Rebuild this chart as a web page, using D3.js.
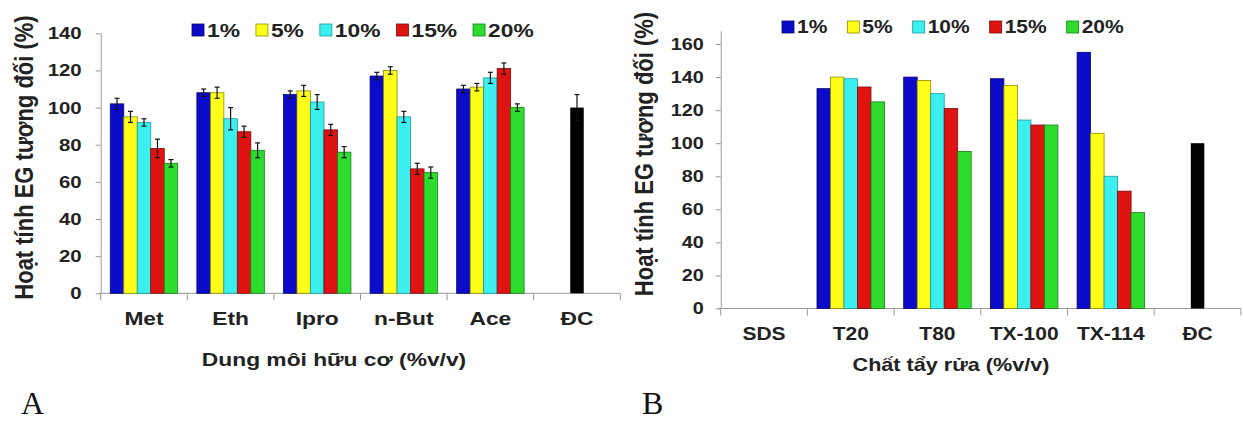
<!DOCTYPE html>
<html><head><meta charset="utf-8">
<script src="https://cdn.jsdelivr.net/npm/d3@7"></script>
<style>body{margin:0;background:#fff}</style>
</head><body>
<script>
// ---------- data ----------
const seriesNames = ["1%", "5%", "10%", "15%", "20%"];
const seriesColors = ["#0b0bc9", "#ffff1a", "#3cf0f0", "#e01313", "#2edc2e"];
const seriesStrokes = ["#05056a", "#8a8a00", "#1a9a9a", "#7a0a0a", "#168016"];

// Panel A: organic solvents
const catsA = ["Met", "Eth", "Ipro", "n-But", "Ace", "ĐC"];
const a1  = [102, 108, 107, 117, 110];
const a5  = [95, 108, 109, 120, 111];
const a10 = [92, 94, 103, 95, 116];
const a15 = [78, 87, 88, 67, 121];
const a20 = [70, 77, 76, 65, 100];
const aErr1  = [3, 2, 2, 2, 2];
const aErr5  = [3, 3, 3, 2, 2];
const aErr10 = [2, 6, 4, 3, 3];
const aErr15 = [5, 3, 3, 3, 3];
const aErr20 = [2, 4, 3, 3, 2];
const controlA = 100, controlErrA = 7;
const ticksA = [0, 20, 40, 60, 80, 100, 120, 140];

// Panel B: detergents
const catsB = ["SDS", "T20", "T80", "TX-100", "TX-114", "ĐC"];
const b1  = [0, 133, 140, 139, 155];
const b5  = [0, 140, 138, 135, 106];
const b10 = [0, 139, 130, 114, 80];
const b15 = [0, 134, 121, 111, 71];
const b20 = [0, 125, 95, 111, 58];
const controlB = 100;
const ticksB = [0, 20, 40, 60, 80, 100, 120, 140, 160];

const titleYA = "Hoạt tính EG tương đối (%)";
const titleXA = "Dung môi hữu cơ (%v/v)";
const titleXB = "Chất tẩy rửa (%v/v)";

// ---------- drawing ----------
const W = 1243, H = 424, SX = 1.2;
const TXT = "#222";
const FONT = "'Liberation Sans', Arial, sans-serif";
const svg = d3.select("body").append("svg").attr("width", W).attr("height", H);

function label(g, x, y, str, size, anchor, rotate) {
  const t = g.append("g")
    .attr("transform", rotate
      ? `translate(${x},${y}) rotate(-90) scale(1,${SX})`
      : `translate(${x},${y}) scale(${SX},1)`)
    .append("text")
    .attr("text-anchor", anchor || "start")
    .attr("font-family", FONT).attr("font-weight", "bold")
    .attr("font-size", size).attr("fill", TXT)
    .text(str);
  return t;
}

function panel(cfg) {
  const g = svg.append("g");
  const x = d3.scaleBand(cfg.cats, [cfg.x0, cfg.x1]).padding(0);
  const inner = d3.scaleBand(seriesNames, [0, x.bandwidth()]).paddingInner(0).paddingOuter(0.71);
  const y = d3.scaleLinear([0, cfg.yMax], [cfg.y0, cfg.yTop]);

  // y axis
  const ya = g.append("g").attr("transform", `translate(${cfg.x0},0)`)
    .call(d3.axisLeft(y).tickValues(cfg.ticks).tickSize(5).tickSizeOuter(0).tickPadding(cfg.tickPad));
  ya.selectAll("path,line").attr("stroke", "#9a9a9a");
  ya.selectAll("text")
    .attr("font-family", FONT).attr("font-weight", "bold").attr("font-size", cfg.tickSize)
    .attr("fill", TXT)
    .attr("transform", `scale(${SX},1)`)
    .attr("x", function () { return +d3.select(this).attr("x") / SX; });

  // x axis line + boundary ticks
  g.append("line").attr("x1", cfg.x0 - 2).attr("x2", cfg.x1).attr("y1", y(0)).attr("y2", y(0))
    .attr("stroke", "#9a9a9a");
  const bounds = cfg.cats.map(c => x(c)).concat([x.range()[1]]);
  g.selectAll(".bt").data(bounds).join("line")
    .attr("x1", d => d).attr("x2", d => d).attr("y1", y(0)).attr("y2", y(0) + 7)
    .attr("stroke", "#9a9a9a");

  // bars
  const groups = cfg.cats.slice(0, 5);
  cfg.series.forEach((vals, si) => {
    g.selectAll(null).data(groups.map((c, i) => ({ c, v: vals[i] })))
      .join("rect")
      .attr("x", d => x(d.c) + inner(seriesNames[si]))
      .attr("width", inner.bandwidth())
      .attr("y", d => y(d.v))
      .attr("height", d => y(0) - y(d.v))
      .attr("fill", seriesColors[si])
      .attr("stroke", seriesStrokes[si]).attr("stroke-width", d => d.v > 0 ? 0.8 : 0);
  });
  // control bar
  const cx = x(cfg.cats[5]) + x.bandwidth() / 2;
  g.append("rect").attr("x", cx - inner.bandwidth() / 2).attr("width", inner.bandwidth())
    .attr("y", y(cfg.control)).attr("height", y(0) - y(cfg.control)).attr("fill", "#000");

  // error bars
  if (cfg.errs) {
    const eb = [];
    cfg.series.forEach((vals, si) => groups.forEach((c, i) => {
      eb.push({ cx: x(c) + inner(seriesNames[si]) + inner.bandwidth() / 2, v: vals[i], e: cfg.errs[si][i] });
    }));
    eb.push({ cx, v: cfg.control, e: cfg.controlErr });
    const ge = g.append("g").attr("stroke", "#111").attr("stroke-width", 1.2);
    ge.selectAll(null).data(eb).join("line")
      .attr("x1", d => d.cx).attr("x2", d => d.cx).attr("y1", d => y(d.v - d.e)).attr("y2", d => y(d.v + d.e));
    ge.selectAll(null).data(eb).join("line")
      .attr("x1", d => d.cx - 2.5).attr("x2", d => d.cx + 2.5).attr("y1", d => y(d.v + d.e)).attr("y2", d => y(d.v + d.e));
    ge.selectAll(null).data(eb).join("line")
      .attr("x1", d => d.cx - 2.5).attr("x2", d => d.cx + 2.5).attr("y1", d => y(d.v - d.e)).attr("y2", d => y(d.v - d.e));
  }

  // category labels
  cfg.cats.forEach(c => label(g, x(c) + x.bandwidth() / 2, cfg.catBase, c, cfg.catSize, "middle"));
  // titles
  label(g, cfg.xtX, cfg.xtY, cfg.xTitle, cfg.xtSize, "middle");
  label(g, cfg.ytX, cfg.ytY, titleYA, cfg.ytSize, "middle", true);

  // legend
  let lx = cfg.legX;
  seriesNames.forEach((s, i) => {
    g.append("rect").attr("x", lx).attr("y", cfg.legY - 6).attr("width", 12).attr("height", 12)
      .attr("fill", seriesColors[i]).attr("stroke", seriesStrokes[i]).attr("stroke-width", 0.8);
    const t = label(g, lx + 15, cfg.legY + cfg.legSize * 0.36, s, cfg.legSize, "start");
    lx += 15 + t.node().getComputedTextLength() * SX + cfg.legGap;
  });

  // panel letter
  svg.append("text").attr("x", cfg.letterX).attr("y", 414).attr("font-family", "'Liberation Serif', 'Times New Roman', serif")
    .attr("font-size", 32).attr("fill", "#111").text(cfg.letter);
}

panel({
  cats: catsA, series: [a1, a5, a10, a15, a20], errs: [aErr1, aErr5, aErr10, aErr15, aErr20],
  control: controlA, controlErr: controlErrA,
  x0: 100.7, x1: 620.3, y0: 293.3, yTop: 33.3, yMax: 140, ticks: ticksA,
  tickPad: 14, tickSize: 17, catSize: 19, catBase: 325,
  xTitle: titleXA, xtX: 334, xtY: 366, xtSize: 19,
  ytX: 33, ytY: 157.5, ytSize: 22,
  legX: 192, legY: 30, legSize: 19, legGap: 16,
  letter: "A", letterX: 21
});

panel({
  cats: catsB, series: [b1, b5, b10, b15, b20], errs: null,
  control: controlB,
  x0: 720.7, x1: 1240.9, y0: 308.5, yTop: 30.8, yMax: 168, ticks: ticksB,
  tickPad: 12, tickSize: 16.5, catSize: 17.5, catBase: 340,
  xTitle: titleXB, xtX: 951, xtY: 371, xtSize: 18,
  ytX: 653, ytY: 154, ytSize: 22,
  legX: 782, legY: 27, legSize: 17.5, legGap: 20,
  letter: "B", letterX: 642
});
</script>
</body></html>
